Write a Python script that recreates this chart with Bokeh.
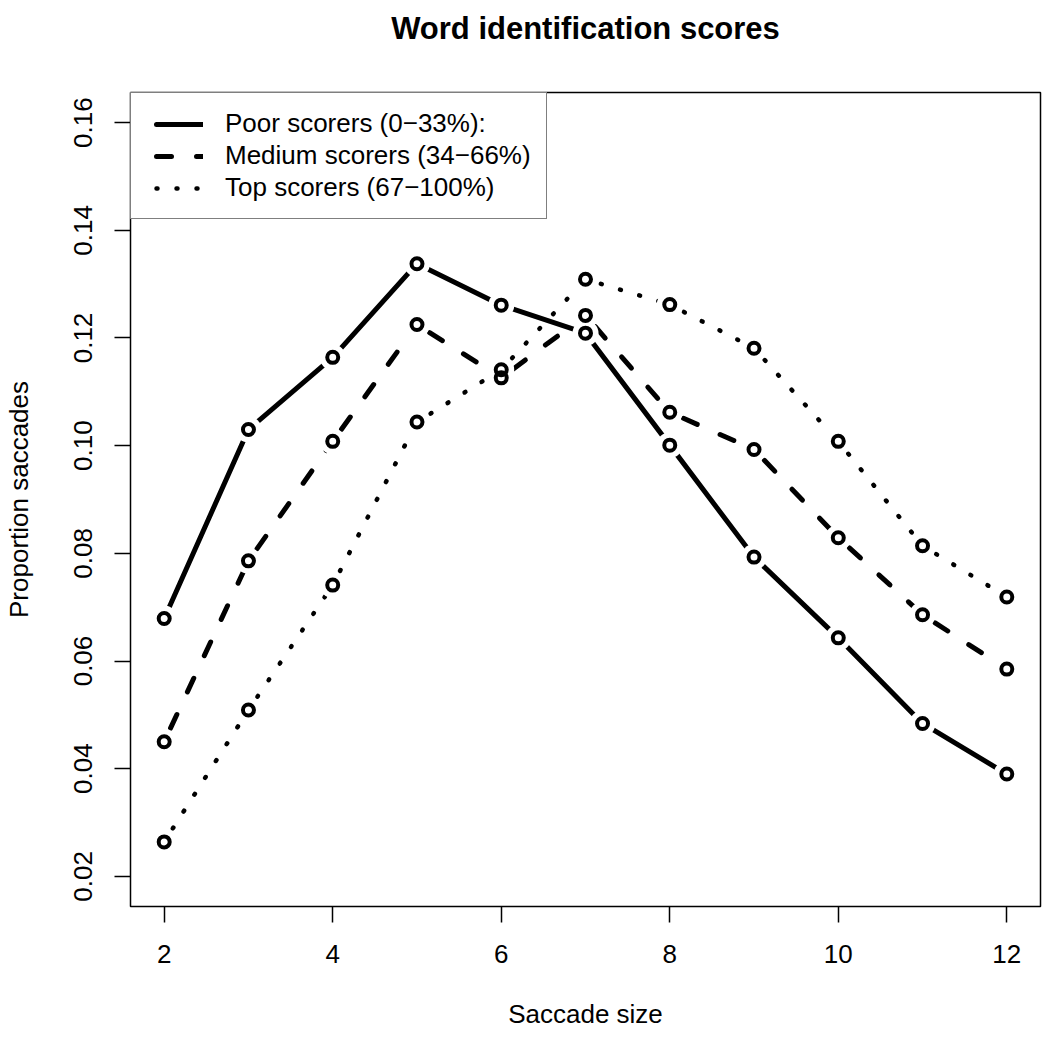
from bokeh.plotting import figure
from bokeh.models import Range1d, FixedTicker, Legend, LegendItem, Title
from bokeh.embed import file_html
from bokeh.resources import INLINE

# ---------------- data ----------------
saccade_size = [2, 3, 4, 5, 6, 7, 8, 9, 10, 11, 12]
poor_scorers = [0.0679, 0.1030, 0.1164, 0.1338, 0.1261, 0.1209, 0.1001, 0.0793, 0.0643, 0.0484, 0.0390]
medium_scorers = [0.0450, 0.0786, 0.1008, 0.1225, 0.1126, 0.1242, 0.1062, 0.0993, 0.0829, 0.0686, 0.0585]
top_scorers = [0.0264, 0.0509, 0.0741, 0.1044, 0.1141, 0.1309, 0.1262, 0.1181, 0.1008, 0.0814, 0.0719]
series_labels = ["Poor scorers (0\u221233%):", "Medium scorers (34\u221266%)", "Top scorers (67\u2212100%)"]
x_ticks = [2, 4, 6, 8, 10, 12]
y_ticks = [0.02, 0.04, 0.06, 0.08, 0.10, 0.12, 0.14, 0.16]
y_tick_labels = ["0.02", "0.04", "0.06", "0.08", "0.10", "0.12", "0.14", "0.16"]
y_limits = [0.02, 0.16]
title_text = "Word identification scores"

FONT = "Liberation Sans"

# R-style 4% range extension
xmin, xmax = min(saccade_size), max(saccade_size)
xpad = 0.04 * (xmax - xmin)
ypad = 0.04 * (y_limits[1] - y_limits[0])

FRAME_W, FRAME_H = 910, 814

p = figure(
    frame_width=FRAME_W, frame_height=FRAME_H,
    x_range=Range1d(xmin - xpad, xmax + xpad),
    y_range=Range1d(y_limits[0] - ypad, y_limits[1] + ypad),
    output_backend="svg", toolbar_location=None, title=None,
    min_border_left=129, min_border_right=10, min_border_top=92, min_border_bottom=120,
)
p.background_fill_color = "white"
p.border_fill_color = "white"
p.outline_line_color = "black"
p.outline_line_width = 1.5
p.xgrid.visible = False
p.ygrid.visible = False

# spacer between box and title, then the bold main title above it
p.add_layout(Title(text=" ", text_font_size="1px", standoff=44), "above")
p.add_layout(Title(text=title_text, align="center", standoff=0,
                   text_font=FONT, text_font_size="31px", text_font_style="bold",
                   text_color="black"), "above")

for ax in (p.xaxis[0], p.yaxis[0]):
    ax.axis_line_color = None
    ax.major_tick_out = 16
    ax.major_tick_in = 0
    ax.minor_tick_out = 0
    ax.minor_tick_in = 0
    ax.major_tick_line_width = 1.5
    ax.major_tick_line_color = "black"
    ax.major_label_text_font = FONT
    ax.major_label_text_font_size = "26px"
    ax.major_label_text_color = "black"
    ax.axis_label_text_font = FONT
    ax.axis_label_text_font_size = "26px"
    ax.axis_label_text_font_style = "normal"
    ax.axis_label_text_color = "black"

p.xaxis.ticker = FixedTicker(ticks=x_ticks)
p.yaxis.ticker = FixedTicker(ticks=y_ticks)
p.yaxis.major_label_overrides = dict(zip(y_ticks, y_tick_labels))
p.yaxis.major_label_orientation = "vertical"
p.xaxis.axis_label = "Saccade size"
p.yaxis.axis_label = "Proportion saccades"
p.xaxis.major_label_standoff = 22
p.yaxis.major_label_standoff = 22
p.xaxis.axis_label_standoff = 33
p.yaxis.axis_label_standoff = 38

styles = [
    dict(line_width=5, line_dash="solid", line_dash_offset=0),
    dict(line_width=5, line_dash="15 25", line_dash_offset=25),
    dict(line_width=4.5, line_dash="1 19", line_dash_offset=4),
]
# legend samples: same patterns, starting after a 10px inset
legend_styles = [
    dict(line_width=5, line_dash="47 100", line_dash_offset=137),
    dict(line_width=5, line_dash="15 25", line_dash_offset=30),
    dict(line_width=4.5, line_dash="1 19", line_dash_offset=10),
]
all_series = [poor_scorers, medium_scorers, top_scorers]

# segments (pattern restarts on each segment, as with R type="b")
for vals, st in zip(all_series, styles):
    p.segment(x0=saccade_size[:-1], y0=vals[:-1], x1=saccade_size[1:], y1=vals[1:],
              line_color="black", line_cap="round", **st)

# gaps around points
for vals in all_series:
    p.scatter(saccade_size, vals, marker="circle", size=26, fill_color="white",
              line_color=None)
# open circle points
for vals in all_series:
    p.scatter(saccade_size, vals, marker="circle", size=11, fill_color=None,
              line_color="black", line_width=4)

# ---------------- legend ----------------
nan = float("nan")
items = []
for lab, st in zip(series_labels, legend_styles):
    sample = p.line(x=[nan], y=[nan], line_color="black", line_cap="round", **st)
    items.append(LegendItem(label=lab, renderers=[sample]))

legend = Legend(
    items=items, location="top_left", margin=0, padding=15,
    spacing=1, label_height=30, glyph_height=30, glyph_width=57, label_standoff=22,
    label_text_font=FONT, label_text_font_size="26px", label_text_color="black",
    border_line_color="black", border_line_width=1.5,
    background_fill_color="white", background_fill_alpha=1.0,
)
p.add_layout(legend)

open("out.html", "w").write(file_html(p, INLINE))
